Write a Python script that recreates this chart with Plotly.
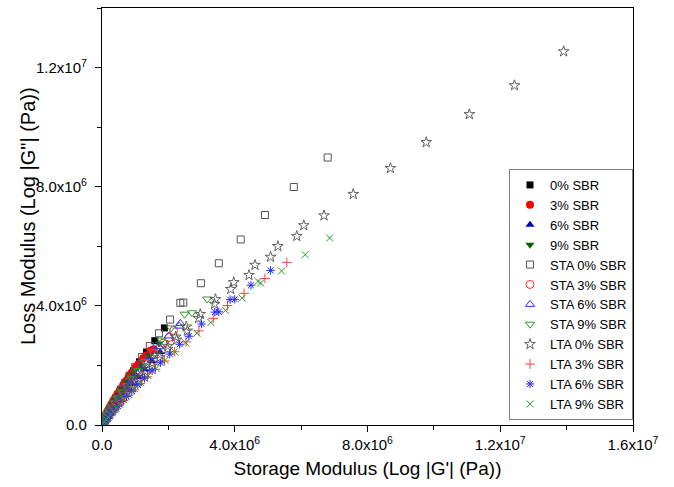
import plotly.graph_objects as go

# ---------------- data (Pa) ----------------
sbr0_x = [1.88e6, 1.59e6, 1.34e6, 1.13e6, 0.95e6, 0.79e6, 0.65e6, 0.53e6, 0.43e6, 0.34e6, 0.27e6, 0.21e6, 0.16e6, 0.12e6, 0.08e6, 0.055e6, 0.03e6]
sbr0_y = [3.26e6, 2.83e6, 2.45e6, 2.12e6, 1.82e6, 1.55e6, 1.31e6, 1.10e6, 0.91e6, 0.75e6, 0.61e6, 0.48e6, 0.38e6, 0.29e6, 0.21e6, 0.14e6, 0.08e6]

sbr3_x = [1.56e6, 1.47e6, 1.33e6, 1.24e6, 1.10e6, 1.02e6, 0.90e6, 0.82e6, 0.72e6, 0.64e6, 0.55e6, 0.48e6, 0.41e6, 0.34e6, 0.28e6, 0.22e6, 0.17e6, 0.12e6, 0.08e6, 0.05e6, 0.025e6]
sbr3_y = [2.54e6, 2.50e6, 2.33e6, 2.24e6, 2.05e6, 1.95e6, 1.76e6, 1.65e6, 1.48e6, 1.35e6, 1.20e6, 1.07e6, 0.94e6, 0.81e6, 0.69e6, 0.57e6, 0.46e6, 0.35e6, 0.25e6, 0.16e6, 0.08e6]

sbr6_x = [1.75e6, 1.50e6, 1.28e6, 1.08e6, 0.90e6, 0.75e6, 0.62e6, 0.50e6, 0.40e6, 0.31e6, 0.24e6, 0.18e6, 0.13e6, 0.09e6, 0.06e6, 0.035e6]
sbr6_y = [2.45e6, 2.15e6, 1.87e6, 1.61e6, 1.38e6, 1.17e6, 0.98e6, 0.81e6, 0.66e6, 0.53e6, 0.41e6, 0.31e6, 0.23e6, 0.16e6, 0.11e6, 0.07e6]

sbr9_x = [1.72e6, 1.44e6, 1.17e6, 0.93e6, 0.76e6, 0.62e6, 0.50e6, 0.40e6, 0.31e6, 0.24e6, 0.18e6, 0.13e6, 0.09e6, 0.06e6, 0.04e6]
sbr9_y = [2.74e6, 2.34e6, 2.01e6, 1.73e6, 1.46e6, 1.22e6, 1.01e6, 0.83e6, 0.67e6, 0.53e6, 0.41e6, 0.31e6, 0.22e6, 0.15e6, 0.10e6]

sta0_x = [6.80e6, 5.78e6, 4.91e6, 4.18e6, 3.52e6, 2.98e6, 2.45e6, 2.36e6, 2.05e6, 1.72e6, 1.44e6, 1.20e6, 1.00e6, 0.83e6, 0.69e6, 0.57e6, 0.47e6, 0.38e6, 0.31e6, 0.25e6, 0.20e6, 0.16e6, 0.12e6, 0.09e6, 0.065e6, 0.045e6, 0.03e6]
sta0_y = [8.98e6, 7.99e6, 7.05e6, 6.23e6, 5.43e6, 4.76e6, 4.11e6, 4.10e6, 3.54e6, 3.08e6, 2.65e6, 2.28e6, 1.95e6, 1.66e6, 1.41e6, 1.19e6, 1.00e6, 0.83e6, 0.69e6, 0.57e6, 0.46e6, 0.37e6, 0.29e6, 0.22e6, 0.16e6, 0.11e6, 0.075e6]

sta3_x = [2.16e6, 2.02e6, 1.84e6, 1.57e6, 1.34e6, 1.13e6, 0.95e6, 0.79e6, 0.65e6, 0.53e6, 0.42e6, 0.33e6, 0.25e6, 0.18e6, 0.13e6, 0.09e6, 0.06e6, 0.035e6]
sta3_y = [3.17e6, 2.94e6, 2.75e6, 2.38e6, 2.06e6, 1.77e6, 1.51e6, 1.28e6, 1.07e6, 0.89e6, 0.73e6, 0.58e6, 0.45e6, 0.34e6, 0.25e6, 0.17e6, 0.11e6, 0.07e6]

sta6_x = [2.36e6, 2.32e6, 2.01e6, 1.72e6, 1.47e6, 1.25e6, 1.06e6, 0.89e6, 0.74e6, 0.61e6, 0.49e6, 0.39e6, 0.30e6, 0.23e6, 0.17e6, 0.12e6, 0.08e6, 0.05e6, 0.03e6]
sta6_y = [3.41e6, 3.32e6, 2.99e6, 2.63e6, 2.30e6, 2.00e6, 1.73e6, 1.48e6, 1.26e6, 1.06e6, 0.88e6, 0.72e6, 0.57e6, 0.45e6, 0.34e6, 0.25e6, 0.17e6, 0.11e6, 0.07e6]

sta9_x = [3.17e6, 2.71e6, 2.49e6, 2.08e6, 1.79e6, 1.52e6, 1.29e6, 1.09e6, 0.91e6, 0.75e6, 0.61e6, 0.49e6, 0.39e6, 0.30e6, 0.23e6, 0.17e6, 0.12e6, 0.08e6, 0.05e6, 0.03e6]
sta9_y = [4.23e6, 3.77e6, 3.72e6, 3.26e6, 2.85e6, 2.47e6, 2.13e6, 1.83e6, 1.56e6, 1.32e6, 1.10e6, 0.91e6, 0.74e6, 0.59e6, 0.46e6, 0.35e6, 0.26e6, 0.18e6, 0.12e6, 0.07e6]

lta0_x = [13.91e6, 12.43e6, 11.07e6, 9.77e6, 8.69e6, 7.57e6, 6.69e6, 6.08e6, 5.87e6, 5.30e6, 5.08e6, 4.61e6, 4.43e6, 3.97e6, 3.88e6, 3.42e6, 3.39e6, 2.96e6, 2.91e6, 2.54e6, 2.57e6, 2.22e6, 2.25e6, 1.98e6, 1.98e6, 1.74e6, 1.74e6, 1.51e6, 1.51e6, 1.30e6, 1.30e6, 1.10e6, 1.10e6, 0.92e6, 0.92e6, 0.76e6, 0.62e6, 0.50e6, 0.39e6, 0.30e6, 0.22e6, 0.16e6, 0.11e6, 0.07e6, 0.04e6]
lta0_y = [12.54e6, 11.40e6, 10.43e6, 9.49e6, 8.62e6, 7.75e6, 7.03e6, 6.70e6, 6.34e6, 6.00e6, 5.64e6, 5.37e6, 5.03e6, 4.79e6, 4.56e6, 4.22e6, 4.06e6, 3.72e6, 3.58e6, 3.30e6, 3.16e6, 2.96e6, 2.86e6, 2.65e6, 2.55e6, 2.37e6, 2.27e6, 2.08e6, 1.99e6, 1.81e6, 1.73e6, 1.56e6, 1.48e6, 1.33e6, 1.26e6, 1.11e6, 0.92e6, 0.75e6, 0.60e6, 0.47e6, 0.35e6, 0.26e6, 0.18e6, 0.12e6, 0.07e6]

lta3_x = [5.57e6, 4.91e6, 4.28e6, 3.78e6, 3.35e6, 2.92e6, 2.53e6, 2.19e6, 1.88e6, 1.61e6, 1.37e6, 1.15e6, 0.96e6, 0.79e6, 0.64e6, 0.51e6, 0.40e6, 0.31e6, 0.23e6, 0.16e6, 0.11e6, 0.07e6, 0.04e6]
lta3_y = [5.46e6, 4.92e6, 4.42e6, 4.01e6, 3.58e6, 3.16e6, 2.79e6, 2.46e6, 2.15e6, 1.87e6, 1.62e6, 1.39e6, 1.18e6, 0.99e6, 0.82e6, 0.67e6, 0.54e6, 0.42e6, 0.32e6, 0.23e6, 0.16e6, 0.10e6, 0.06e6]

lta6_x = [5.08e6, 4.49e6, 4.00e6, 3.86e6, 3.52e6, 3.40e6, 3.00e6, 2.62e6, 2.34e6, 2.04e6, 1.76e6, 1.51e6, 1.28e6, 1.08e6, 0.90e6, 0.74e6, 0.60e6, 0.48e6, 0.37e6, 0.28e6, 0.21e6, 0.15e6, 0.10e6, 0.065e6, 0.04e6]
lta6_y = [5.19e6, 4.69e6, 4.22e6, 4.21e6, 3.80e6, 3.79e6, 3.39e6, 2.98e6, 2.71e6, 2.38e6, 2.09e6, 1.82e6, 1.57e6, 1.35e6, 1.14e6, 0.96e6, 0.79e6, 0.64e6, 0.51e6, 0.40e6, 0.30e6, 0.22e6, 0.15e6, 0.10e6, 0.06e6]

lta9_x = [6.86e6, 6.12e6, 5.41e6, 4.78e6, 4.70e6, 4.22e6, 3.72e6, 3.28e6, 2.86e6, 2.52e6, 2.19e6, 1.90e6, 1.63e6, 1.39e6, 1.17e6, 0.98e6, 0.81e6, 0.66e6, 0.53e6, 0.42e6, 0.33e6, 0.25e6, 0.18e6, 0.13e6, 0.09e6, 0.06e6, 0.035e6]
lta9_y = [6.28e6, 5.72e6, 5.17e6, 4.77e6, 4.82e6, 4.26e6, 3.85e6, 3.44e6, 3.08e6, 2.76e6, 2.46e6, 2.17e6, 1.90e6, 1.65e6, 1.42e6, 1.21e6, 1.02e6, 0.85e6, 0.70e6, 0.57e6, 0.45e6, 0.35e6, 0.26e6, 0.19e6, 0.13e6, 0.09e6, 0.05e6]

series_names = ["0% SBR", "3% SBR", "6% SBR", "9% SBR",
                "STA 0% SBR", "STA 3% SBR", "STA 6% SBR", "STA 9% SBR",
                "LTA 0% SBR", "LTA 3% SBR", "LTA 6% SBR", "LTA 9% SBR"]
series_x = [sbr0_x, sbr3_x, sbr6_x, sbr9_x, sta0_x, sta3_x, sta6_x, sta9_x, lta0_x, lta3_x, lta6_x, lta9_x]
series_y = [sbr0_y, sbr3_y, sbr6_y, sbr9_y, sta0_y, sta3_y, sta6_y, sta9_y, lta0_y, lta3_y, lta6_y, lta9_y]

x_tick_vals = [0, 4e6, 8e6, 1.2e7, 1.6e7]
x_tick_text = ["0.0", "4.0x10<sup>6</sup>", "8.0x10<sup>6</sup>", "1.2x10<sup>7</sup>", "1.6x10<sup>7</sup>"]
x_minor_vals = [2e6, 6e6, 1e7, 1.4e7]
y_tick_vals = [0, 4e6, 8e6, 1.2e7]
y_tick_text = ["0.0", "4.0x10<sup>6</sup>", "8.0x10<sup>6</sup>", "1.2x10<sup>7</sup>"]
y_minor_vals = [2e6, 6e6, 1e7, 1.4e7]

x_title = "Storage Modulus (Log |G'| (Pa))"
y_title = 'Loss Modulus (Log |G"| (Pa))'

# ---------------- styles ----------------
styles = [
    dict(symbol="square", color="#000000", size=7, line=dict(width=0)),
    dict(symbol="circle", color="#FF0000", size=8, line=dict(width=0)),
    dict(symbol="triangle-up", color="#0000CC", size=8, line=dict(width=0)),
    dict(symbol="triangle-down", color="#006400", size=8, line=dict(width=0)),
    dict(symbol="square-open", color="#555555", size=7, line=dict(width=1, color="#555555")),
    dict(symbol="circle-open", color="#FF3030", size=8, line=dict(width=1, color="#FF3030")),
    dict(symbol="triangle-up-open", color="#3030FF", size=8, line=dict(width=1, color="#3030FF")),
    dict(symbol="triangle-down-open", color="#2E9A2E", size=8, line=dict(width=1, color="#2E9A2E")),
    dict(symbol="star-open", color="#505050", size=8, line=dict(width=0.9, color="#505050")),
    dict(symbol="cross-thin-open", color="#FF4040", size=7, line=dict(width=1, color="#FF4040")),
    dict(symbol="asterisk-open", color="#2525FF", size=7, line=dict(width=1, color="#2525FF")),
    dict(symbol="x-thin-open", color="#2E9A2E", size=7, line=dict(width=1, color="#2E9A2E")),
]

FONT = "Liberation Sans, Arial, sans-serif"

fig = go.Figure()
for name, xs, ys, st in zip(series_names, series_x, series_y, styles):
    fig.add_trace(go.Scatter(x=xs, y=ys, mode="markers", name=name, marker=st))

axis_common = dict(
    ticks="outside", ticklen=6, tickwidth=1.2, tickcolor="black",
    showline=True, linecolor="black", linewidth=1.3, mirror=True,
    showgrid=False, zeroline=False,
    tickfont=dict(family=FONT, size=15, color="black"),
)

fig.update_layout(
    width=674, height=487,
    margin=dict(l=102, r=41, t=8, b=62),
    paper_bgcolor="white", plot_bgcolor="white",
    font=dict(family=FONT, color="black"),
    showlegend=True,
    xaxis=dict(
        range=[0, 1.6e7], tickmode="array", tickvals=x_tick_vals, ticktext=x_tick_text,
        minor=dict(tickmode="array", tickvals=x_minor_vals, ticks="outside", ticklen=3.5,
                   tickcolor="black", tickwidth=1.2, showgrid=False),
        title=dict(text=x_title, font=dict(family=FONT, size=19), standoff=9),
        **axis_common,
    ),
    yaxis=dict(
        range=[0, 1.4e7], tickmode="array", tickvals=y_tick_vals, ticktext=y_tick_text,
        minor=dict(tickmode="array", tickvals=y_minor_vals, ticks="outside", ticklen=3.5,
                   tickcolor="black", tickwidth=1.2, showgrid=False),
        ticklabelstandoff=5,
        **axis_common,
    ),
    legend=dict(
        x=1, xanchor="right", y=0.012, yanchor="bottom",
        bordercolor="#808080", borderwidth=1, bgcolor="white",
        font=dict(family=FONT, size=13, color="black"),
        itemsizing="trace",
    ),
    annotations=[dict(
        text=y_title, textangle=-90, xref="paper", yref="paper",
        x=-0.1403, y=0.5, xanchor="center", yanchor="middle", showarrow=False,
        font=dict(family=FONT, size=20, color="black"),
    )],
)

fig.write_html("out.html")
